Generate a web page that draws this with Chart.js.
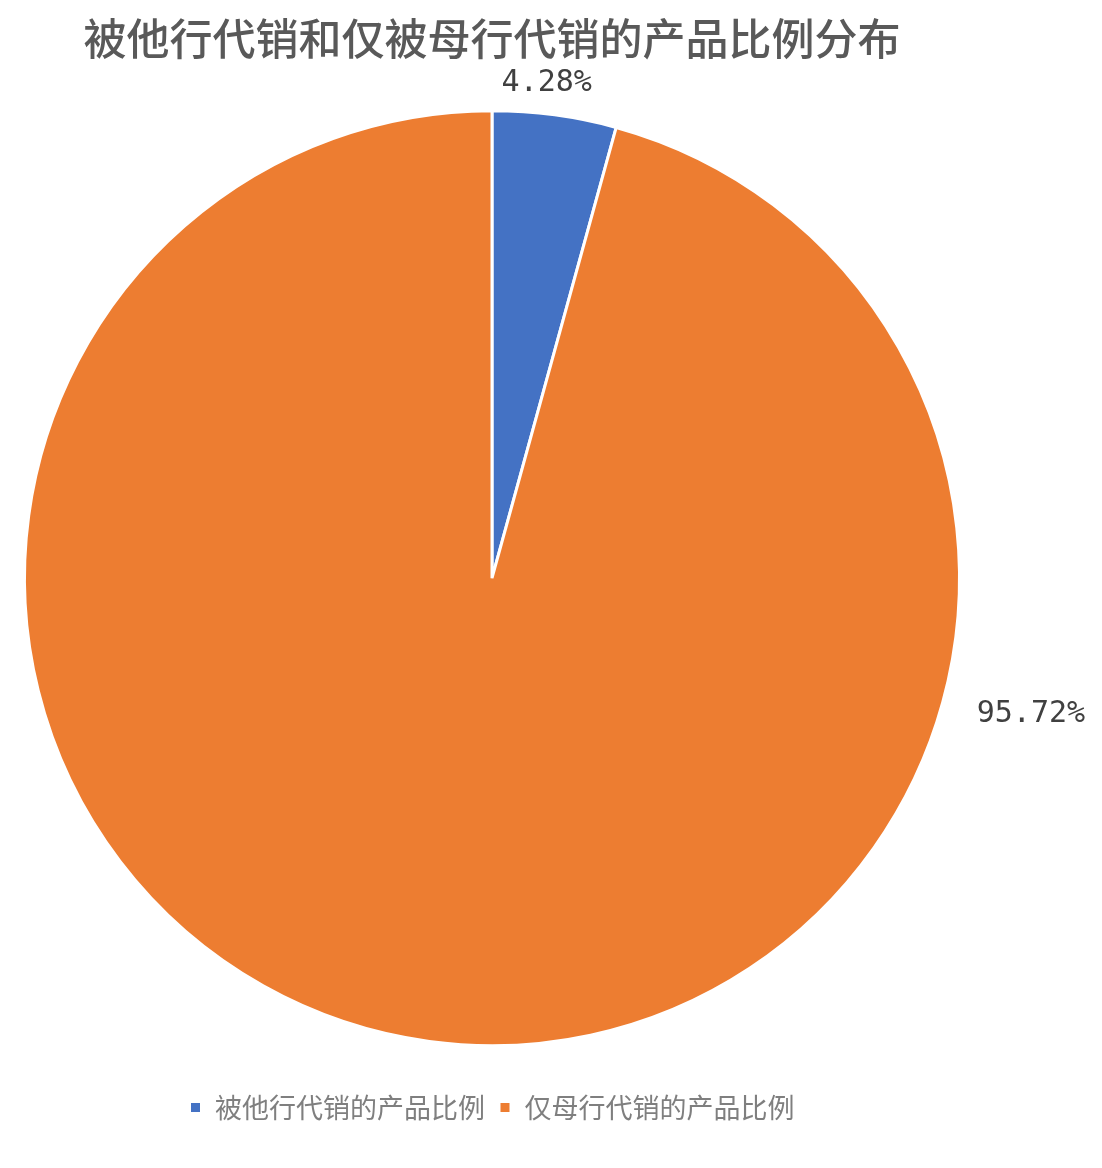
<!DOCTYPE html>
<html>
<head>
<meta charset="utf-8">
<script src="https://cdn.jsdelivr.net/npm/chart.js@4/dist/chart.umd.min.js"></script>
<style>
  html, body { margin: 0; padding: 0; background: #ffffff; }
  #wrap { width: 1102px; height: 1168px; position: relative; }
</style>
</head>
<body>
<div id="wrap"><canvas id="pieChart"></canvas></div>
<script>
const titleText = '被他行代销和仅被母行代销的产品比例分布';
const categories = ['被他行代销的产品比例', '仅母行代销的产品比例'];
const shares = [4.28, 95.72];
const shareLabels = ['4.28%', '95.72%'];
const sliceColors = ['#4472c4', '#ed7d31'];

// where each value label sits: fraction along the slice's angle, and gap past the rim
const labelAngleFrac = [0.41, 0.262];
const labelGap = [30, 36];

const cjk = '"Noto Sans CJK SC", "Noto Sans", sans-serif';

// draws the percentage labels outside the pie, using the arc geometry
const outsideLabels = {
    id: 'outsideLabels',
    afterDatasetsDraw(chart) {
        const ctx = chart.ctx;
        const meta = chart.getDatasetMeta(0);
        ctx.save();
        ctx.font = '30px "DejaVu Sans Mono", monospace';
        ctx.fillStyle = '#404040';
        ctx.textBaseline = 'middle';
        meta.data.forEach((arc, i) => {
            const p = arc.getProps(['x', 'y', 'startAngle', 'endAngle', 'outerRadius'], true);
            const a = p.startAngle + (p.endAngle - p.startAngle) * labelAngleFrac[i];
            const r = p.outerRadius + labelGap[i];
            const x = p.x + Math.cos(a) * r;
            const y = p.y + Math.sin(a) * r;
            ctx.textAlign = Math.cos(a) > 0.5 ? 'left' : 'center';
            ctx.fillText(shareLabels[i], x, y);
        });
        ctx.restore();
    }
};

const ctx = document.getElementById('pieChart').getContext('2d');

new Chart(ctx, {
    type: 'pie',
    data: {
        labels: categories,
        datasets: [{
            data: shares,
            backgroundColor: sliceColors,
            borderColor: '#ffffff',
            borderWidth: 3
        }]
    },
    options: {
        responsive: true,
        maintainAspectRatio: false,
        animation: false,
        layout: {
            padding: { left: 23, right: 141, top: 0, bottom: 37 }
        },
        plugins: {
            title: {
                display: true,
                text: titleText,
                color: '#595959',
                font: { family: cjk, size: 43, weight: '500', lineHeight: 1.1 },
                padding: { top: 15, bottom: 14 }
            },
            legend: {
                position: 'bottom',
                labels: {
                    color: '#7f7f7f',
                    font: { family: cjk, size: 27 },
                    boxWidth: 12,
                    boxHeight: 12,
                    padding: 14
                }
            },
            tooltip: { enabled: false }
        }
    },
    plugins: [outsideLabels]
});
</script>
</body>
</html>
